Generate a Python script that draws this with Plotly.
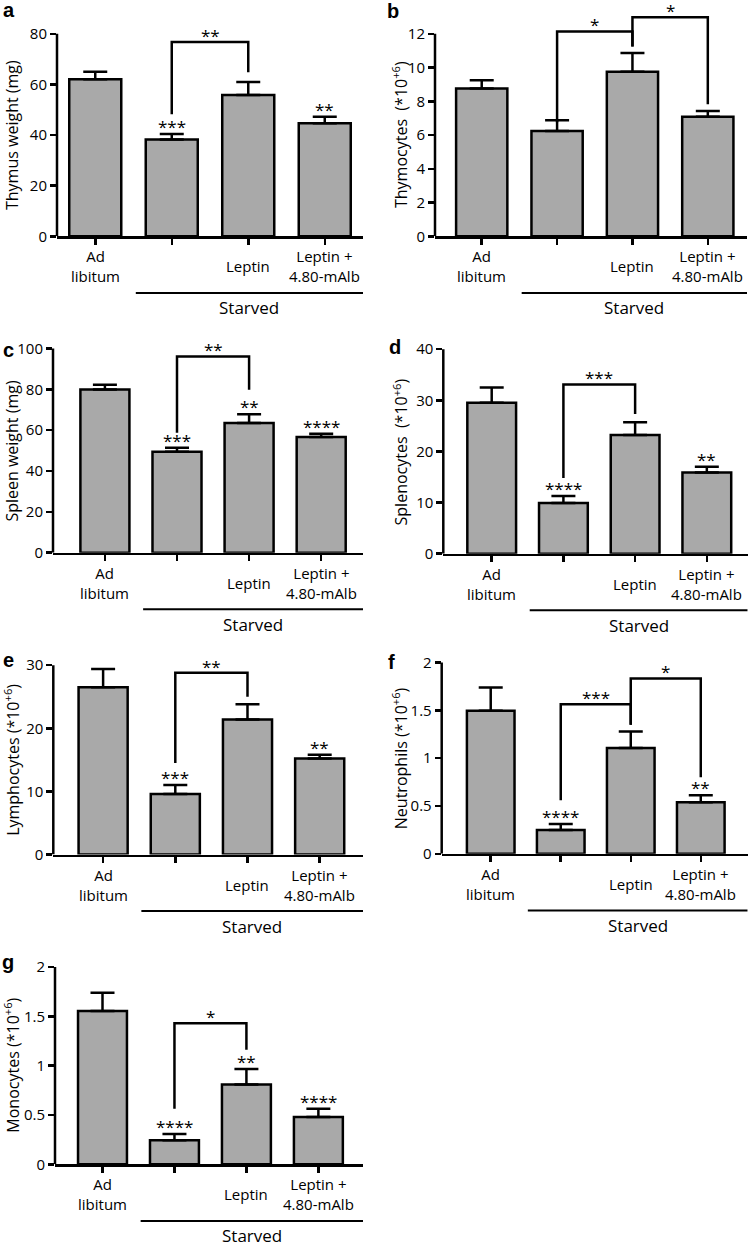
import plotly.graph_objects as go

W, H = 750, 1256
FONT = "Open Sans"
WT = 500
GRAY = "#a9a9a9"

# ---------------- data ----------------
categories = ["Ad<br>libitum", "", "Leptin", "Leptin +<br>4.80-mAlb"]
group_label = "Starved"

thymus_weight = [62.0, 38.2, 55.8, 44.7]
thymus_weight_sem = [3.0, 2.2, 5.1, 2.5]
thymus_weight_stars = ["", "***", "", "**"]

thymocytes = [8.75, 6.24, 9.75, 7.08]
thymocytes_sem = [0.49, 0.64, 1.11, 0.35]
thymocytes_stars = ["", "", "", ""]

spleen_weight = [79.9, 49.4, 63.5, 56.7]
spleen_weight_sem = [2.4, 2.0, 4.3, 1.6]
spleen_weight_stars = ["", "***", "**", "****"]

splenocytes = [29.5, 9.9, 23.2, 15.9]
splenocytes_sem = [3.0, 1.4, 2.5, 1.1]
splenocytes_stars = ["", "****", "", "**"]

lymphocytes = [26.5, 9.6, 21.4, 15.2]
lymphocytes_sem = [2.9, 1.4, 2.4, 0.6]
lymphocytes_stars = ["", "***", "", "**"]

neutrophils = [1.495, 0.249, 1.107, 0.54]
neutrophils_sem = [0.245, 0.062, 0.173, 0.072]
neutrophils_stars = ["", "****", "", "**"]

monocytes = [1.554, 0.245, 0.81, 0.48]
monocytes_sem = [0.185, 0.061, 0.157, 0.084]
monocytes_stars = ["", "****", "**", "****"]

# brackets: (from, to, top, left leg end, right leg end, label)
thymus_weight_brackets = [(1, 2, 76.7, 48.2, 64.8, "**")]
thymocytes_brackets = [(1, 2, 12.14, 6.76, 11.25, "*"), (2, 3, 12.98, 11.25, 7.82, "*")]
spleen_weight_brackets = [(1, 2, 96.1, 58.7, 79.8, "**")]
splenocytes_brackets = [(1, 2, 33.1, 14.8, 27.3, "***")]
lymphocytes_brackets = [(1, 2, 28.8, 14.5, 25.0, "**")]
neutrophils_brackets = [(1, 2, 1.564, 0.56, 1.35, "***"), (2, 3, 1.834, 1.35, 0.80, "*")]
monocytes_brackets = [(1, 2, 1.43, 0.564, 1.16, "*")]

sup = "(*10<sup>+6</sup>)"
panels = [
    dict(letter="a", title="Thymus weight (mg)", vals=thymus_weight, sem=thymus_weight_sem,
         stars=thymus_weight_stars, brackets=thymus_weight_brackets, top=80, dtick=20,
         box=(57, 363, 238, 34), xr=(-0.5, 3.5), tx=12, lp=(9, 10)),
    dict(letter="b", title="Thymocytes  " + sup, vals=thymocytes, sem=thymocytes_sem,
         stars=thymocytes_stars, brackets=thymocytes_brackets, top=12, dtick=2,
         box=(435, 747, 238, 34), xr=(-0.62, 3.52), tx=400, lp=(393, 11)),
    dict(letter="c", title="Spleen weight (mg)", vals=spleen_weight, sem=spleen_weight_sem,
         stars=spleen_weight_stars, brackets=spleen_weight_brackets, top=100, dtick=20,
         box=(53, 363, 556.7, 351), xr=(-0.72, 3.58), tx=12, lp=(8, 353)),
    dict(letter="d", title="Splenocytes  " + sup, vals=splenocytes, sem=splenocytes_sem,
         stars=splenocytes_stars, brackets=splenocytes_brackets, top=40, dtick=10,
         box=(443.3, 747.7, 557.7, 351.7), xr=(-0.675, 3.57), tx=401, lp=(395, 350)),
    dict(letter="e", title="Lymphocytes " + sup, vals=lymphocytes, sem=lymphocytes_sem,
         stars=lymphocytes_stars, brackets=lymphocytes_brackets, top=30, dtick=10,
         box=(53.3, 363, 860.7, 670), xr=(-0.69, 3.6), tx=12, lp=(8, 665)),
    dict(letter="f", title="Neutrophils " + sup, vals=neutrophils, sem=neutrophils_sem,
         stars=neutrophils_stars, brackets=neutrophils_brackets, top=2, dtick=0.5,
         box=(441.7, 747.7, 860, 667.3), xr=(-0.70, 3.67), tx=400, lp=(391, 667)),
    dict(letter="g", title="Monocytes " + sup, vals=monocytes, sem=monocytes_sem,
         stars=monocytes_stars, brackets=monocytes_brackets, top=2, dtick=0.5,
         box=(55, 363, 1172.7, 974), xr=(-0.66, 3.62), tx=12, lp=(8, 969)),
]

fig = go.Figure()
shapes = []
annotations = []
LW = 2.5


def fmt(v):
    return ("%g" % v)


def tfont(size):
    return dict(family=FONT, size=size, color="black", weight=WT)


for k, p in enumerate(panels):
    n = k + 1
    xa = "x" if n == 1 else f"x{n}"
    ya = "y" if n == 1 else f"y{n}"
    xl, xrp, y0, yt = p["box"]
    T = p["top"]
    ext = 1.13
    R = T * ext
    top_px = y0 - ext * (y0 - yt)
    xs = list(range(len(categories)))

    fig.add_trace(go.Bar(
        x=xs, y=p["vals"], width=0.68, xaxis=xa, yaxis=ya, showlegend=False,
        marker=dict(color=GRAY, line=dict(color="black", width=LW)),
        error_y=dict(type="data", array=p["sem"], arrayminus=[0] * len(xs), symmetric=False,
                     color="black", thickness=LW, width=12),
        hoverinfo="skip"))

    tv = []
    v = 0.0
    while v <= T + 1e-9:
        tv.append(round(v, 6))
        v += p["dtick"]

    fig.update_layout(**{
        ("xaxis" if n == 1 else f"xaxis{n}"): dict(
            domain=[xl / W, xrp / W], range=list(p["xr"]), anchor=ya,
            showline=True, linecolor="black", linewidth=LW,
            ticks="outside", ticklen=6, tickwidth=LW, tickcolor="black",
            tickvals=xs, showticklabels=False, showgrid=False, zeroline=False),
        ("yaxis" if n == 1 else f"yaxis{n}"): dict(
            domain=[1 - y0 / H, 1 - top_px / H], range=[0, R], anchor=xa,
            showline=False, ticks="outside", ticklen=6, tickwidth=LW, tickcolor="black",
            tickvals=tv, ticktext=[fmt(t) for t in tv],
            tickfont=tfont(15),
            showgrid=False, zeroline=False),
    })

    # y axis line up to top tick
    shapes.append(dict(type="line", xref=f"{xa} domain", yref=ya, x0=0, x1=0, y0=0, y1=T,
                       line=dict(color="black", width=LW)))

    # stars above bars
    for i, s in enumerate(p["stars"]):
        if s:
            annotations.append(dict(xref=xa, yref=ya, x=i, y=p["vals"][i] + p["sem"][i],
                                    text=s, showarrow=False, yanchor="bottom", yshift=-6,
                                    font=tfont(17)))

    # brackets
    for (i0, i1, ytop, yl, yr, lab) in p["brackets"]:
        shapes.append(dict(type="path", xref=xa, yref=ya,
                           path=f"M {i0},{yl} L {i0},{ytop} L {i1},{ytop} L {i1},{yr}",
                           line=dict(color="black", width=LW)))
        annotations.append(dict(xref=xa, yref=ya, x=(i0 + i1) / 2, y=ytop, text=lab,
                                showarrow=False, yanchor="bottom", yshift=-7,
                                font=tfont(17)))

    # category labels
    for i, c in enumerate(categories):
        if c:
            annotations.append(dict(xref=xa, yref=ya, x=i, y=0, yshift=-30, text=c,
                                    showarrow=False, yanchor="middle", font=tfont(15)))

    # Starved group line + label
    line_y = 1 - (y0 + 57) / H
    sx0 = 0.53
    shapes.append(dict(type="line", xref=xa, yref="paper", x0=sx0, x1=p["xr"][1],
                       y0=line_y, y1=line_y, line=dict(color="black", width=2)))
    annotations.append(dict(xref=xa, yref="paper", x=(sx0 + p["xr"][1]) / 2,
                            y=1 - (y0 + 57 + 15) / H, text=group_label, showarrow=False,
                            yanchor="middle", font=tfont(17)))

    # y title
    annotations.append(dict(xref="paper", yref=ya, x=p["tx"] / W, y=T / 2, text=p["title"],
                            textangle=-90, showarrow=False, xanchor="center", yanchor="middle",
                            font=tfont(16)))
    # panel letter
    annotations.append(dict(xref="paper", yref="paper", x=p["lp"][0] / W, y=1 - p["lp"][1] / H,
                            text=f"<b>{p['letter']}</b>", showarrow=False,
                            xanchor="center", yanchor="middle",
                            font=dict(family="Liberation Sans", size=20, color="black")))

fig.update_layout(width=W, height=H, margin=dict(l=0, r=0, t=0, b=0),
                  paper_bgcolor="white", plot_bgcolor="rgba(0,0,0,0)",
                  shapes=shapes, annotations=annotations, showlegend=False,
                  font=dict(family=FONT, color="black"))

fig.write_html("out.html", config={"displayModeBar": False, "staticPlot": True},
               post_script="document.body.style.margin='0px';document.body.style.overflow='hidden';")
